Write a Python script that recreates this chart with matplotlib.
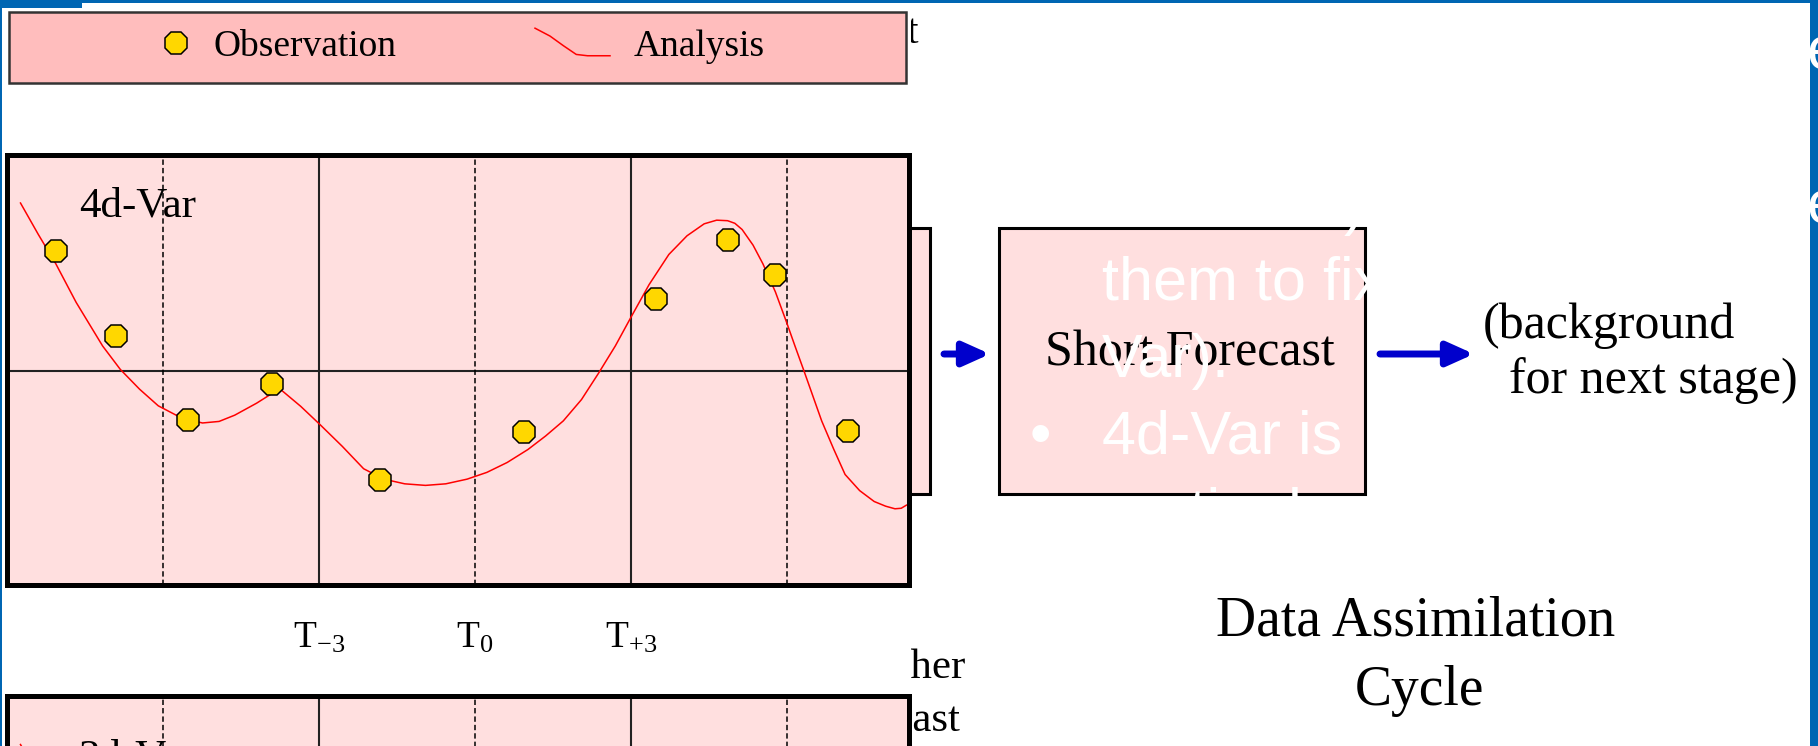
import numpy as np
import matplotlib.pyplot as plt
from matplotlib.patches import Rectangle
from matplotlib.lines import Line2D
from matplotlib.legend_handler import HandlerLine2D

plt.rcParams['font.family'] = ['Liberation Serif', 'DejaVu Serif']
plt.rcParams['mathtext.fontset'] = 'custom'
plt.rcParams['mathtext.rm'] = 'Liberation Serif'
plt.rcParams['mathtext.it'] = 'Liberation Serif:italic'

W, H = 1818, 746

# x = time step relative to T0, y = state value (same units)
obs_x = [-8.06, -6.90, -5.52, -3.91, -1.82, 0.94, 3.48, 4.87, 5.78, 7.17]
obs_y = [2.30, 0.67, -0.94, -0.25, -2.10, -1.17, 1.38, 2.52, 1.85, -1.16]

ana_x = [-8.74, -8.40, -8.06, -7.67, -7.16, -6.82, -6.45, -6.09, -5.65, -5.24,
         -4.92, -4.62, -4.20, -3.85, -3.72, -3.35, -2.98, -2.55, -2.14, -1.75,
         -1.35, -0.95, -0.56, -0.15, 0.23, 0.62, 1.02, 1.36, 1.70, 2.05,
         2.38, 2.70, 3.00, 3.35, 3.73, 4.08, 4.41, 4.65, 4.86, 5.00,
         5.14, 5.35, 5.54, 5.78, 5.99, 6.16, 6.33, 6.50, 6.67, 6.90,
         7.12, 7.40, 7.68, 7.90, 8.08, 8.20, 8.30]
ana_y = [3.23, 2.63, 2.06, 1.32, 0.48, 0.03, -0.35, -0.67, -0.90, -1.00,
         -0.97, -0.85, -0.62, -0.40, -0.37, -0.68, -1.03, -1.45, -1.88, -2.08,
         -2.17, -2.20, -2.17, -2.08, -1.95, -1.76, -1.51, -1.25, -0.96, -0.55,
         -0.04, 0.48, 1.03, 1.66, 2.24, 2.60, 2.83, 2.90, 2.89, 2.84,
         2.72, 2.42, 2.06, 1.52, 0.95, 0.47, 0.00, -0.48, -0.96, -1.50,
         -1.99, -2.30, -2.51, -2.60, -2.65, -2.64, -2.58]

var3_x = [-8.74, -8.40]
var3_y = [3.23, 2.63]

tick_pos = [-3, 0, 3]
tick_labels = [r'T$_{-3}$', r'T$_{0}$', r'T$_{+3}$']
solid_x = [-3, 3]
dashed_x = [-6, 0, 6]

PINK = '#FFDFDF'
LEG_PINK = '#FFBDBD'
YELLOW = '#FFD700'
ARROW = '#0000CC'
FRAME = '#0066B3'


def px_rect(x0, y0, x1, y1):
    return [x0 / W, 1 - y1 / H, (x1 - x0) / W, (y1 - y0) / H]


class SwooshHandler(HandlerLine2D):
    # legend key drawn as a little falling curve like the original
    def create_artists(self, legend, orig_handle, xdescent, ydescent,
                       width, height, fontsize, trans):
        xs = np.array([0.0, 0.2, 0.38, 0.55, 0.7, 1.0]) * width - xdescent
        ys = np.array([1.05, 0.75, 0.38, 0.05, 0.0, 0.0]) * height - ydescent
        ln = Line2D(xs, ys, color=orig_handle.get_color(),
                    lw=orig_handle.get_linewidth())
        ln.set_transform(trans)
        return [ln]


def panel(ax, label, label_y):
    ax.set_facecolor(PINK)
    ax.set_xlim(-8.99, 8.34)
    ax.set_ylim(-4.106, 4.163)
    for s in ax.spines.values():
        s.set_linewidth(3.6)
        s.set_color('black')
    for x in solid_x:
        ax.axvline(x, color='#222222', lw=1.5)
    ax.axhline(0, color='#222222', lw=1.5)
    for x in dashed_x:
        ax.axvline(x, color='black', lw=1.1, ls=(0, (3.5, 2)))
    ax.set_yticks([])
    ax.text(0.079, label_y, label, transform=ax.transAxes, fontsize=31,
            va='baseline')


fig = plt.figure(figsize=(W / 100, H / 100), dpi=100)

bg = fig.add_axes([0, 0, 1, 1], zorder=0)
bg.set_xlim(0, W)
bg.set_ylim(H, 0)
bg.axis('off')

# diagram underneath the pasted chart image
bg.add_patch(Rectangle((700, 227.7), 229.5, 266.3, fc=PINK, ec='black',
                       lw=2.2, zorder=1))
bg.text(919, 43, 'input', ha='right', va='baseline', fontsize=30, zorder=1)
bg.text(966, 678, 'other', ha='right', va='baseline', fontsize=31, zorder=1)
bg.text(960, 731, 'forecast', ha='right', va='baseline', fontsize=31, zorder=1)

# white chart image
bg.add_patch(Rectangle((0, 0), 911, H, fc='white', ec='none', zorder=2))

# legend box
bg.add_patch(Rectangle((9, 12), 897, 71, fc=LEG_PINK, ec='#333333', lw=1.8,
                       zorder=3))

# short forecast box and arrows
bg.add_patch(Rectangle((998.5, 227.7), 366.5, 266.3, fc=PINK, ec='black',
                       lw=2.2, zorder=3))
bg.text(1190, 366, 'Short Forecast', ha='center', va='baseline', fontsize=36,
        zorder=4)
arrow = dict(arrowstyle='-|>,head_length=0.8,head_width=0.36', color=ARROW,
             lw=5, mutation_scale=20, shrinkA=0, shrinkB=0)
bg.annotate('', xy=(990, 354), xytext=(944, 354), arrowprops=arrow, zorder=4)
bg.annotate('', xy=(1474, 354), xytext=(1380, 354), arrowprops=arrow, zorder=4)
bg.text(1483, 338, '(background', va='baseline', fontsize=36, zorder=4)
bg.text(1509, 393, 'for next stage)', va='baseline', fontsize=36, zorder=4)
bg.text(1416, 636, 'Data Assimilation', ha='center', va='baseline',
        fontsize=40, zorder=4)
bg.text(1419, 705, 'Cycle', ha='center', va='baseline', fontsize=40, zorder=4)

# 4d-Var panel
ax = fig.add_axes(px_rect(7.5, 154.5, 908.5, 584.5), zorder=1)
panel(ax, '4d-Var', 0.855)
ax.plot(ana_x, ana_y, color='#FF0000', lw=1.1)
ax.plot(obs_x, obs_y, ls='none', marker='8', ms=17, mfc=YELLOW, mec='black',
        mew=1.1)
ax.set_xticks(tick_pos, tick_labels)
ax.tick_params(axis='x', length=0, pad=26, labelsize=27)

# 3d-Var panel, mostly below the slide edge
ax2 = fig.add_axes(px_rect(7.5, 696, 908.5, 1126), zorder=1)
panel(ax2, '3d-Var', 0.832)
ax2.plot(var3_x, var3_y, color='#FF0000', lw=1.1)
ax2.set_xticks([])

# legend
obs_handle = Line2D([], [], ls='none', marker='8', ms=17, mfc=YELLOW,
                    mec='black', mew=1.1)
ana_handle = Line2D([], [], color='#FF0000', lw=1.1)
fig.legend([obs_handle], ['Observation'], loc='center left',
           bbox_to_anchor=(157, 46.5), bbox_transform=bg.transData,
           frameon=False, fontsize=27, handlelength=1.0, handletextpad=0.51,
           borderpad=0, borderaxespad=0)
fig.legend([ana_handle], ['Analysis'], loc='center left',
           bbox_to_anchor=(535, 46.5), bbox_transform=bg.transData,
           frameon=False, fontsize=27, handlelength=2.0, handletextpad=0.64,
           borderpad=0, borderaxespad=0,
           handler_map={Line2D: SwooshHandler()})

# slide layer on top: white bullet text and blue frame
top = fig.add_axes([0, 0, 1, 1], zorder=6)
top.set_xlim(0, W)
top.set_ylim(H, 0)
top.axis('off')
top.patch.set_alpha(0)
sans = ['Liberation Sans', 'DejaVu Sans']
wt = dict(color='white', fontsize=44, family=sans, va='baseline')
top.text(1806, 69.5, 'e', **wt)
top.text(1344, 223, ')', **wt)
top.text(1806, 223, 'e', **wt)
top.text(1102, 300, 'them to fix', **wt)
top.text(1102, 377, 'Var).', **wt)
top.text(1040, 454, '\u2022', ha='center', color='white', fontsize=44,
         family=sans, va='baseline')
top.text(1102, 454, '4d-Var is', **wt)
top.text(1102, 531, 'routinely', **wt)

top.add_patch(Rectangle((0, 0), W, 3, fc=FRAME, ec='none'))
top.add_patch(Rectangle((0, 0), 82, 8, fc=FRAME, ec='none'))
top.add_patch(Rectangle((0, 0), 2, H, fc=FRAME, ec='none'))
top.add_patch(Rectangle((1810, 0), 8, H, fc=FRAME, ec='none'))

fig.savefig('out.png', dpi=100)
